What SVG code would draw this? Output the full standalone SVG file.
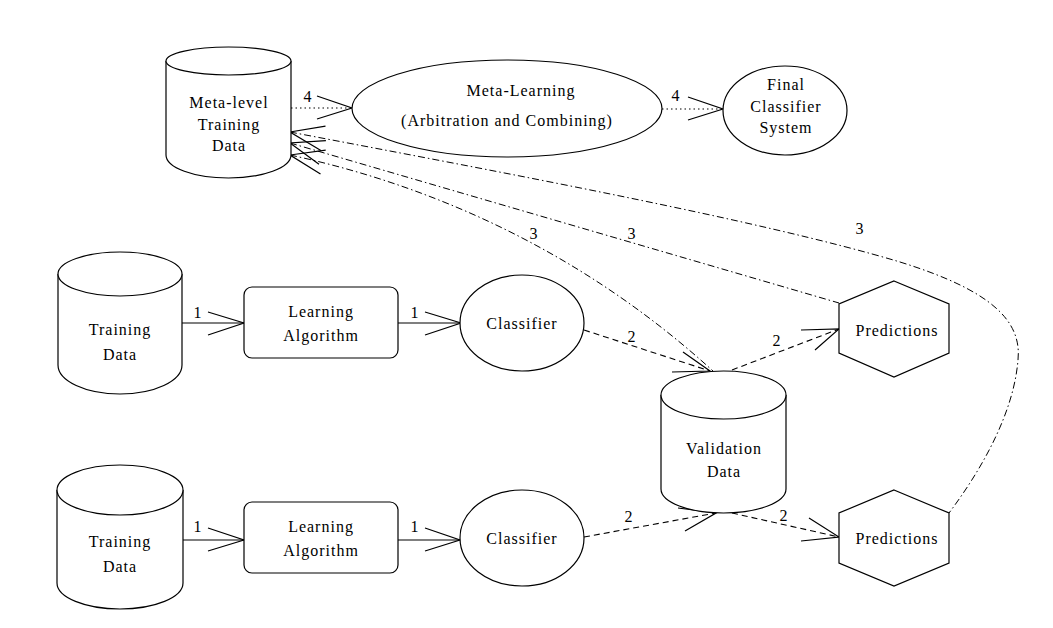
<svg xmlns="http://www.w3.org/2000/svg" width="1053" height="628" viewBox="0 0 1053 628">
<style>
  .shape { fill: #ffffff; stroke: #000000; stroke-width: 1.2; }
  .lbl { font-family: 'Liberation Serif', 'DejaVu Serif', serif; font-size: 16px; letter-spacing: 1px; fill: #000000; text-anchor: middle; }
  .solid { fill: none; stroke: #000000; stroke-width: 1.2; }
  .dash { fill: none; stroke: #000000; stroke-width: 1.1; stroke-dasharray: 6 4; }
  .dot { fill: none; stroke: #000000; stroke-width: 1.1; stroke-dasharray: 1.5 3; }
  .dashdot { fill: none; stroke: #000000; stroke-width: 1; stroke-dasharray: 7 3 1.5 3; }
  .head { fill: none; stroke: #000000; stroke-width: 1.2; }
</style>
<rect width="1053" height="628" fill="#ffffff"/>

<g id="connectors" font-family="Liberation Serif, serif">
  <!-- 4: meta-level -> meta-learning -->
  <line class="dot" x1="291" y1="108" x2="352" y2="108"/>
  <polyline class="head" points="317,96 352,108 317,119"/>
  <text class="lbl" x="308" y="102">4</text>
  <!-- 4: meta-learning -> final -->
  <line class="dot" x1="662" y1="109" x2="723" y2="109"/>
  <polyline class="head" points="688,97 723,109 688,120"/>
  <text class="lbl" x="676" y="101">4</text>

  <!-- 1 arrows top -->
  <line class="solid" x1="182" y1="323" x2="244" y2="323"/>
  <polyline class="head" points="208,312 244,323 208,335"/>
  <text class="lbl" x="198" y="318">1</text>
  <line class="solid" x1="398" y1="323" x2="461" y2="323"/>
  <polyline class="head" points="425,312 461,323 425,335"/>
  <text class="lbl" x="415" y="318">1</text>
  <!-- 1 arrows bottom -->
  <line class="solid" x1="183" y1="540" x2="244" y2="540"/>
  <polyline class="head" points="208,528 244,540 208,551"/>
  <text class="lbl" x="198" y="532">1</text>
  <line class="solid" x1="398" y1="540" x2="460" y2="540"/>
  <polyline class="head" points="425,528 460,540 425,551"/>
  <text class="lbl" x="415" y="532">1</text>

  <!-- 2 arrows -->
  <line class="dash" x1="584" y1="330" x2="710" y2="371"/>
  <polyline class="head" points="683,352 710,371 672,372"/>
  <text class="lbl" x="632" y="342">2</text>

  <line class="dash" x1="732" y1="370" x2="839" y2="329"/>
  <polyline class="head" points="801,330 839,329 815,350"/>
  <text class="lbl" x="777" y="346">2</text>

  <line class="dash" x1="584" y1="537" x2="716" y2="513"/>
  <polyline class="head" points="678,508 716,513 685,531"/>
  <text class="lbl" x="629" y="522">2</text>

  <line class="dash" x1="732" y1="513" x2="839" y2="537"/>
  <polyline class="head" points="809,518 839,537 801,541"/>
  <text class="lbl" x="784" y="521">2</text>

  <!-- 3 arrows -->
  <path class="dashdot" d="M 290 132 C 500 172, 760 220, 900 262 C 990 290, 1022 320, 1018 360 C 1014 410, 985 465, 949 513"/>
  <polyline class="head" points="325.5,126.2 290,132 320.9,150.4"/>
  <text class="lbl" x="860" y="234">3</text>

  <line class="dashdot" x1="290" y1="143" x2="839" y2="303"/>
  <polyline class="head" points="325.9,140.6 290,143 319,164.3"/>
  <text class="lbl" x="632" y="239">3</text>

  <path class="dashdot" d="M 290 155 C 430 185, 580 250, 713 371"/>
  <polyline class="head" points="325.7,150.1 290,155 320.5,174.1"/>
  <text class="lbl" x="534" y="239">3</text>
</g>

<g id="meta-level-training-data">
  <path class="shape" d="M 166 61 L 166 155 A 62.5 23 0 0 0 291 155 L 291 61"/>
  <ellipse class="shape" cx="228.5" cy="61" rx="62.5" ry="14"/>
  <text class="lbl" x="229" y="108">Meta-level</text>
  <text class="lbl" x="229" y="130">Training</text>
  <text class="lbl" x="229" y="151">Data</text>
</g>

<g id="meta-learning">
  <ellipse class="shape" cx="507" cy="108.5" rx="155" ry="48.5"/>
  <text class="lbl" x="521" y="96">Meta-Learning</text>
  <text class="lbl" x="507" y="126">(Arbitration and Combining)</text>
</g>

<g id="final-classifier-system">
  <ellipse class="shape" cx="785" cy="110.5" rx="62" ry="44.5"/>
  <text class="lbl" x="786" y="90">Final</text>
  <text class="lbl" x="786" y="112">Classifier</text>
  <text class="lbl" x="786" y="133">System</text>
</g>

<g id="training-data-1">
  <path class="shape" d="M 58 274 L 58 365 A 62 29 0 0 0 182 365 L 182 274"/>
  <ellipse class="shape" cx="120" cy="274" rx="62" ry="22"/>
  <text class="lbl" x="120" y="335">Training</text>
  <text class="lbl" x="120" y="360">Data</text>
</g>

<g id="learning-algorithm-1">
  <rect class="shape" x="244" y="287" width="154" height="71" rx="8" ry="8"/>
  <text class="lbl" x="321" y="317">Learning</text>
  <text class="lbl" x="321" y="341">Algorithm</text>
</g>

<g id="classifier-1">
  <ellipse class="shape" cx="522" cy="323" rx="62" ry="48"/>
  <text class="lbl" x="522" y="329">Classifier</text>
</g>

<g id="training-data-2">
  <path class="shape" d="M 57 490 L 57 583 A 63 26 0 0 0 183 583 L 183 490"/>
  <ellipse class="shape" cx="120" cy="490" rx="63" ry="25"/>
  <text class="lbl" x="120" y="547">Training</text>
  <text class="lbl" x="120" y="572">Data</text>
</g>

<g id="learning-algorithm-2">
  <rect class="shape" x="244" y="502" width="154" height="71" rx="8" ry="8"/>
  <text class="lbl" x="321" y="532">Learning</text>
  <text class="lbl" x="321" y="556">Algorithm</text>
</g>

<g id="classifier-2">
  <ellipse class="shape" cx="522" cy="538" rx="62" ry="48"/>
  <text class="lbl" x="522" y="544">Classifier</text>
</g>

<g id="validation-data">
  <path class="shape" d="M 661 395 L 661 489 A 62.5 24 0 0 0 786 489 L 786 395"/>
  <ellipse class="shape" cx="723.5" cy="395" rx="62.5" ry="24"/>
  <text class="lbl" x="724" y="454">Validation</text>
  <text class="lbl" x="724" y="477">Data</text>
</g>

<g id="predictions-1">
  <polygon class="shape" points="894,281 949,304 949,353 894,377 839,353 839,304"/>
  <text class="lbl" x="897" y="336">Predictions</text>
</g>

<g id="predictions-2">
  <polygon class="shape" points="894,490 949,513 949,563 894,586 839,563 839,513"/>
  <text class="lbl" x="897" y="544">Predictions</text>
</g>
</svg>
